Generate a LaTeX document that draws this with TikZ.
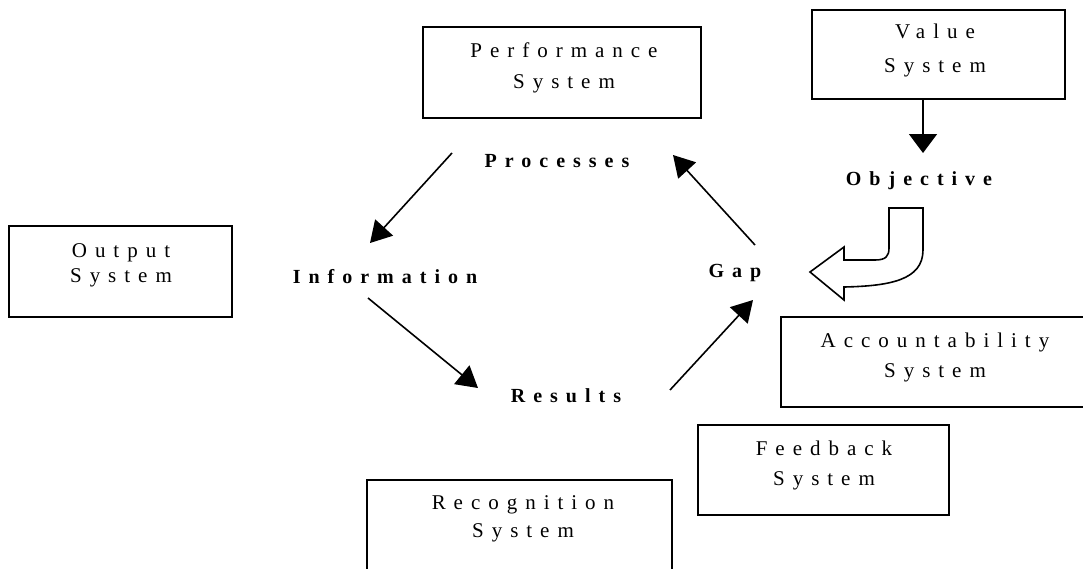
\documentclass[tikz,border=0pt]{standalone}
\usepackage{fontspec}
\setmainfont{Liberation Serif}[LetterSpace=38, BoldFeatures={LetterSpace=40}]
\usetikzlibrary{arrows.meta}
\begin{document}
\begin{tikzpicture}[x=1pt,y=-1pt,
  frame/.style={draw, line width=1.8pt, inner sep=0pt},
  systext/.style={align=center, inner sep=0pt, xshift=4pt,
    font=\fontsize{21}{#1}\selectfont},
  systext/.default=31,
  stage/.style={anchor=base, inner sep=0pt, xshift=4pt,
    font=\fontsize{20}{24}\selectfont\bfseries},
  flow/.style={line width=1.6pt, -{Triangle[length=21pt,width=24pt]}},
  drop/.style={line width=1.6pt, -{Triangle[length=19pt,width=28pt]}},
  bigarrow/.style={draw, line width=1.6pt, fill=white, line join=miter}
]
\useasboundingbox (0,0) rectangle (1083,568);
\begin{scope}
\clip (0,0) rectangle (1083,568);

% system frames
\node[frame, minimum width=278pt, minimum height=91pt] (perf) at (562,72.5) {};
\node[frame, minimum width=253pt, minimum height=89pt] (value) at (938.5,54.5) {};
\node[frame, minimum width=223pt, minimum height=91pt] (output) at (120.5,271.5) {};
\node[frame, minimum width=320pt, minimum height=90pt] (account) at (941,362) {};
\node[frame, minimum width=251pt, minimum height=90pt] (feedback) at (823.5,470) {};
\node[frame, minimum width=305pt, minimum height=110pt] (recog) at (519.5,535) {};

% system names
\node[systext] (perfT) at (560,67.8) {Performance\\System};
\node[systext=34] (valueT) at (931,50.3) {Value\\System};
\node[systext=25] (outputT) at (117,265) {Output\\System};
\node[systext=30] (accountT) at (931,357.3) {Accountability\\System};
\node[systext=30] (feedbackT) at (820,465.3) {Feedback\\System};
\node[systext=28] (recogT) at (519,519.3) {Recognition\\System};

% stages of the loop
\node[stage] (proc) at (553,167) {Processes};
\node[stage] (obj) at (915,185) {Objective};
\node[stage] (info) at (381,283) {Information};
\node[stage] (gap) at (731,277) {Gap};
\node[stage] (res) at (562,402) {Results};

% arrow end points around the loop
\coordinate (procOut) at (452,153);
\coordinate (infoIn) at (370,243);
\coordinate (infoOut) at (368,298);
\coordinate (resIn) at (478,388);
\coordinate (resOut) at (670,390);
\coordinate (gapIn) at (753,300);
\coordinate (gapOut) at (755,245);
\coordinate (procIn) at (673,155);
\coordinate (objIn) at (923,153);

\draw[flow] (procOut) -- (infoIn);
\draw[flow] (infoOut) -- (resIn);
\draw[flow] (resOut) -- (gapIn);
\draw[flow] (gapOut) -- (procIn);
\draw[drop] (value.south -| objIn) -- (objIn);

% bent block arrow from the objective to the gap
\path[bigarrow] (889,208) -- (923,208) -- (923,250)
  .. controls (923,280) and (890,286) .. (844,287)
  -- (844,300) -- (810,272) -- (844,247) -- (844,260) -- (875,260)
  .. controls (886,260) and (889,256) .. (889,248) -- cycle;
\end{scope}
\end{tikzpicture}
\end{document}
